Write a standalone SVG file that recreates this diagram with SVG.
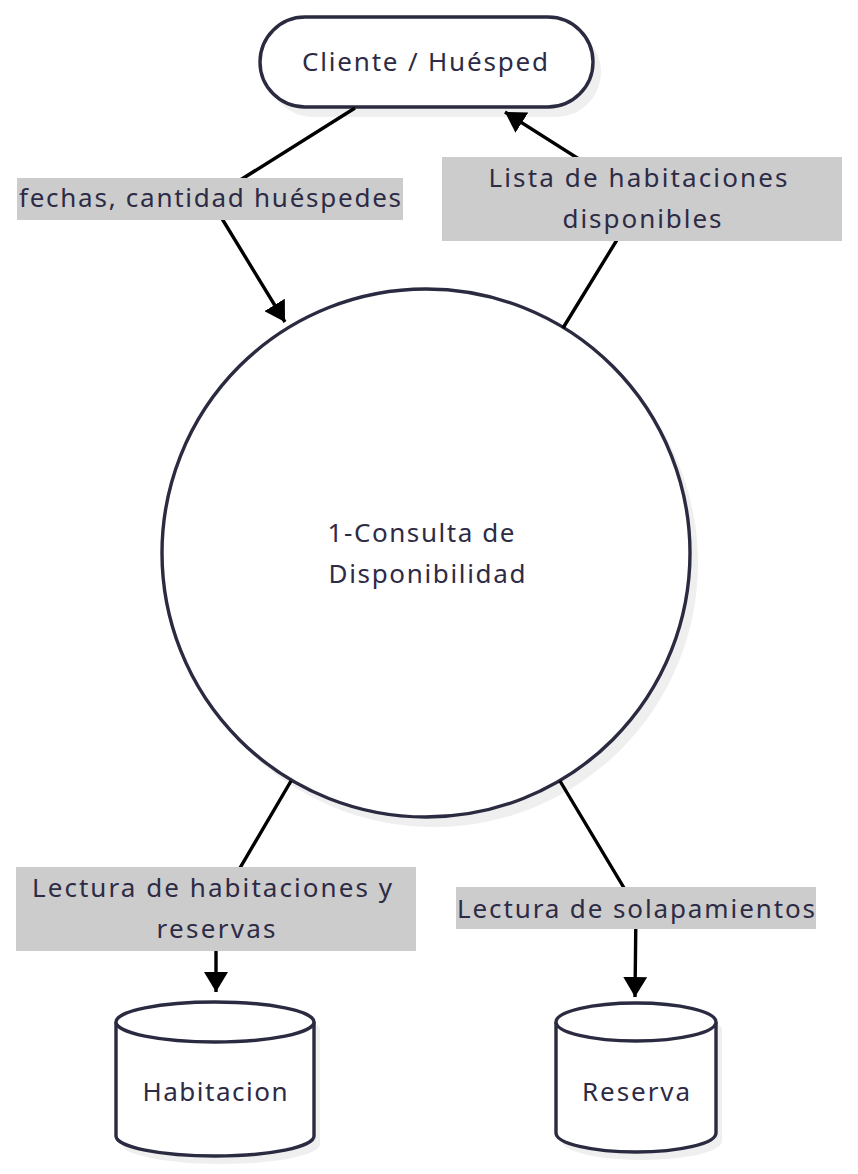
<svg xmlns="http://www.w3.org/2000/svg" width="858" height="1174" viewBox="0 0 858 1174">
<style>
.node{fill:#ffffff;stroke:#2a2a40;stroke-width:3.4}
.shadow{fill:#efefef;stroke:none}
.t{font-family:"Noto Sans","Open Sans",sans-serif;font-size:26px;fill:#2d2b45;text-anchor:middle}
.edge{fill:none;stroke:#000000;stroke-width:3.4}
.lbl{fill:#cccccc}
</style>
<defs>
<marker id="arrow" markerUnits="userSpaceOnUse" markerWidth="22" markerHeight="24" refX="20" refY="12" orient="auto">
<path d="M0,0 L20,12 L0,24 Z" fill="#000000"/>
</marker>
</defs>
<rect width="858" height="1174" fill="#ffffff"/>
<g id="node-cliente">
<rect class="shadow" x="268" y="27" width="333" height="90" rx="45"/>
<rect class="node" x="260" y="17" width="333" height="90" rx="45"/>
<text class="t" x="425" y="71" textLength="246" lengthAdjust="spacing">Cliente / Huésped</text>
</g>
<g id="node-consulta">
<circle class="shadow" cx="434" cy="563" r="264"/>
<circle class="node" cx="426" cy="553" r="264"/>
<text class="t" x="421" y="542" textLength="187" lengthAdjust="spacing">1-Consulta de</text>
<text class="t" x="427" y="583" textLength="197" lengthAdjust="spacing">Disponibilidad</text>
</g>
<g id="node-habitacion">
<path class="shadow" d="M122,1030 A99,20 0 0 1 320,1030 L320,1144 A99,20 0 0 1 122,1144 Z"/>
<path class="node" d="M116,1022 A99,20 0 0 1 314,1022 L314,1136 A99,20 0 0 1 116,1136 Z"/>
<path class="node" d="M116,1022 A99,20 0 0 0 314,1022" fill="none"/>
<text class="t" x="215" y="1101" textLength="145" lengthAdjust="spacing">Habitacion</text>
</g>
<g id="node-reserva">
<path class="shadow" d="M562,1030 A80,19 0 0 1 722,1030 L722,1141 A80,19 0 0 1 562,1141 Z"/>
<path class="node" d="M556,1022 A80,19 0 0 1 716,1022 L716,1133 A80,19 0 0 1 556,1133 Z"/>
<path class="node" d="M556,1022 A80,19 0 0 0 716,1022" fill="none"/>
<text class="t" x="636" y="1101" textLength="108" lengthAdjust="spacing">Reserva</text>
</g>
<g id="edges">
<path class="edge" d="M355,108 L210,199 L285,322" marker-end="url(#arrow)"/>
<path class="edge" d="M563,328 L642,199 L505,112" marker-end="url(#arrow)"/>
<path class="edge" d="M291,781 L216,909 L216,992" marker-end="url(#arrow)"/>
<path class="edge" d="M560,781 L636,908 L635,997" marker-end="url(#arrow)"/>
</g>
<g id="edge-labels">
<g id="label-fechas">
<rect class="lbl" x="17" y="178" width="386" height="42"/>
<text class="t" x="210" y="207" textLength="382" lengthAdjust="spacing">fechas, cantidad huéspedes</text>
</g>
<g id="label-lista">
<rect class="lbl" x="442" y="157" width="400" height="84"/>
<text class="t" x="638" y="187" textLength="299" lengthAdjust="spacing">Lista de habitaciones</text>
<text class="t" x="642" y="228" textLength="159" lengthAdjust="spacing">disponibles</text>
</g>
<g id="label-lectura-hab">
<rect class="lbl" x="16" y="867" width="400" height="84"/>
<text class="t" x="212" y="897" textLength="360" lengthAdjust="spacing">Lectura de habitaciones y</text>
<text class="t" x="216" y="938" textLength="119" lengthAdjust="spacing">reservas</text>
</g>
<g id="label-lectura-sol">
<rect class="lbl" x="456" y="887" width="360" height="42"/>
<text class="t" x="636" y="918" textLength="358" lengthAdjust="spacing">Lectura de solapamientos</text>
</g>
</g>
</svg>
